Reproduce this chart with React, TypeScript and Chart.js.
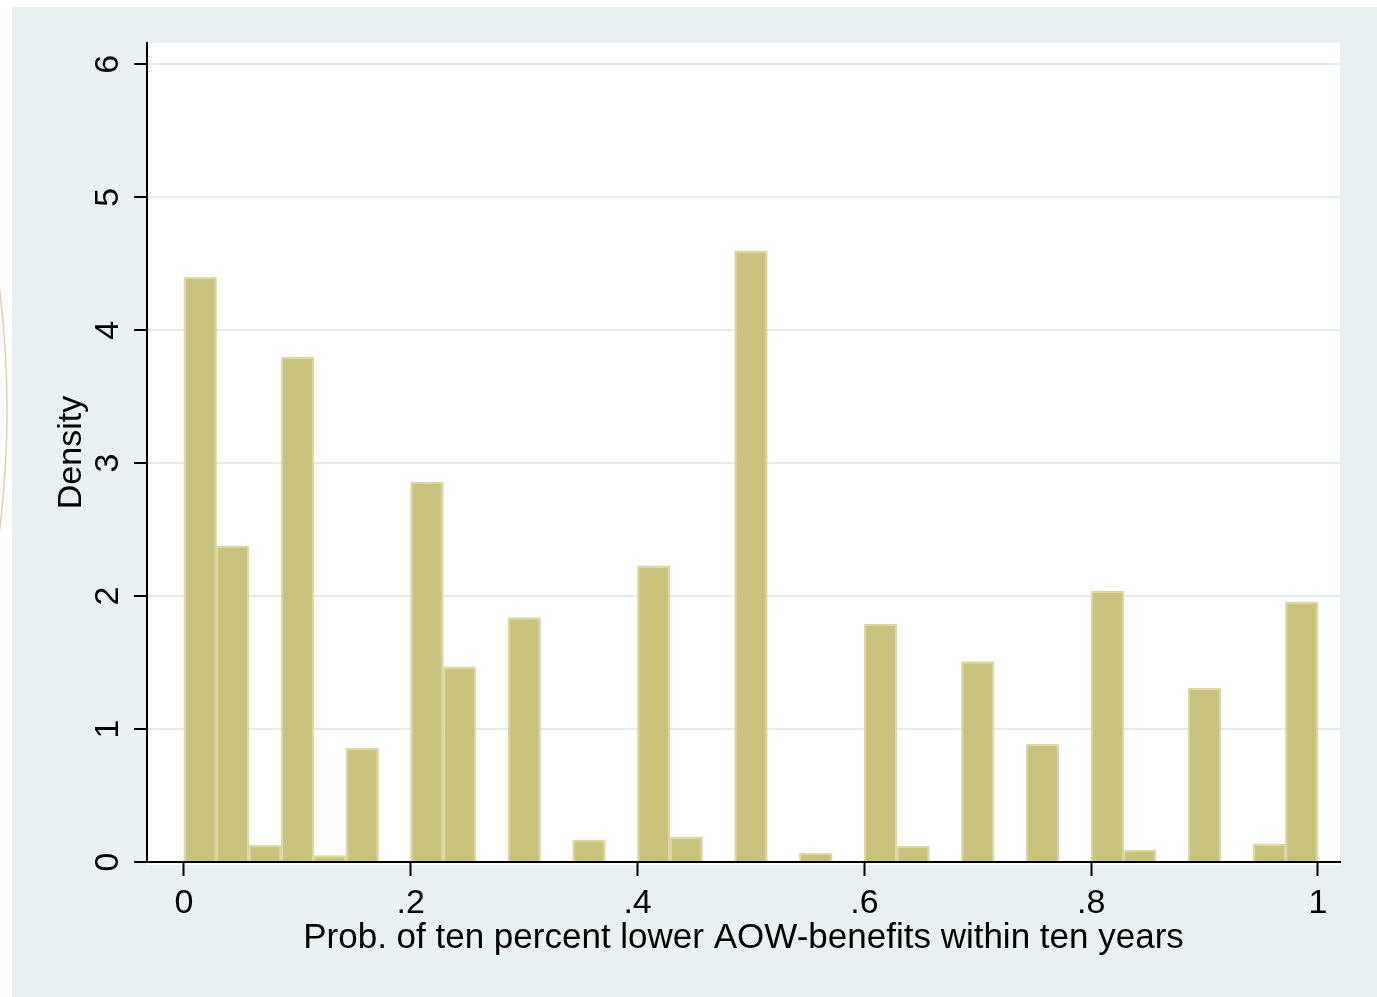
import React, { useEffect, useRef } from "react";
import { Chart, registerables } from "chart.js";

Chart.register(...registerables);

// Histogram: 35 equal-width bins on [0, 1]
const BIN_COUNT = 35;
const DENSITIES = [
  4.40, 2.38, 0.13, 3.80, 0.05, 0.86, 0, 2.86, 1.47, 0,
  1.84, 0, 0.17, 0, 2.23, 0.19, 0, 4.60, 0, 0.07,
  0, 1.79, 0.12, 0, 1.51, 0, 0.89, 0, 2.04, 0.09,
  0, 1.31, 0, 0.14, 1.96,
];
const X_TICKS = [0, 0.2, 0.4, 0.6, 0.8, 1];
const X_TICK_LABELS = ["0", ".2", ".4", ".6", ".8", "1"];
const Y_TICKS = [0, 1, 2, 3, 4, 5, 6];
const Y_TICK_LABELS = ["0", "1", "2", "3", "4", "5", "6"];
const X_TITLE = "Prob. of ten percent lower AOW-benefits within ten years";
const Y_TITLE = "Density";

const W = 1377;
const H = 997;
const FONT = "'Liberation Sans', Arial, Helvetica, sans-serif";
const BG = "#E9F0F2";

export default function App() {
  const ref = useRef<HTMLCanvasElement | null>(null);

  useEffect(() => {
    const canvas = ref.current;
    if (!canvas) return;

    const decor = {
      id: "decor",
      beforeDraw(chart: any) {
        const { ctx, chartArea } = chart;
        ctx.save();
        ctx.fillStyle = "#ffffff";
        ctx.fillRect(0, 0, W, H);
        ctx.fillStyle = BG;
        ctx.fillRect(12, 7, W - 12, H - 7);
        // faint arc at the left margin
        ctx.beginPath();
        ctx.strokeStyle = "#E6CDAE";
        ctx.lineWidth = 1.5;
        ctx.arc(-974, 410, 981, -0.125, 0.125);
        ctx.stroke();
        ctx.fillStyle = "#ffffff";
        ctx.fillRect(chartArea.left, chartArea.top, chartArea.right - chartArea.left, chartArea.bottom - chartArea.top + 3);
        ctx.restore();
      },
      afterDraw(chart: any) {
        const { ctx } = chart;
        const ys = chart.scales.y;
        ctx.save();
        ctx.fillStyle = "#000000";
        ctx.font = `34px ${FONT}`;
        ctx.textAlign = "center";
        ctx.textBaseline = "alphabetic";
        Y_TICKS.forEach((v, i) => {
          const py = ys.getPixelForValue(v);
          ctx.save();
          ctx.translate(118, py);
          ctx.rotate(-Math.PI / 2);
          ctx.fillText(Y_TICK_LABELS[i], 0, 0);
          ctx.restore();
        });
        ctx.restore();
      },
    };

    const chart = new Chart(canvas, {
      type: "bar",
      data: {
        datasets: [
          {
            data: DENSITIES.map((d, i) => ({ x: (i + 0.5) / BIN_COUNT, y: d })),
            backgroundColor: "#C9C27D",
            borderColor: "#DCD6A6",
            borderWidth: 2,
            barPercentage: 1.03,
            categoryPercentage: 1,
          },
        ],
      },
      options: {
        responsive: false,
        animation: false,
        devicePixelRatio: 1,
        layout: { padding: { top: 43, right: 37, left: 0, bottom: 0 } },
        plugins: {
          legend: { display: false },
          tooltip: { enabled: false },
        },
        scales: {
          x: {
            type: "linear",
            offset: false,
            min: -0.0326,
            max: 1.0194,
            afterBuildTicks: (s: any) => {
              s.ticks = X_TICKS.map((v) => ({ value: v }));
            },
            afterFit: (s: any) => {
              s.height = H - 862;
            },
            ticks: {
              autoSkip: false,
              maxRotation: 0,
              minRotation: 0,
              padding: 7,
              color: "#000000",
              font: { family: FONT, size: 34 },
              callback: (v: any) => {
                const i = X_TICKS.findIndex((t) => Math.abs(t - Number(v)) < 1e-9);
                return i >= 0 ? X_TICK_LABELS[i] : "";
              },
            },
            grid: {
              offset: false,
              drawOnChartArea: false,
              drawTicks: true,
              tickLength: 14,
              tickColor: "#000000",
              tickWidth: 2,
            },
            border: { display: true, color: "#000000", width: 2 },
            title: {
              display: true,
              text: X_TITLE,
              color: "#000000",
              font: { family: FONT, size: 35 },
              padding: { top: 0, bottom: 38 },
            },
          },
          y: {
            type: "linear",
            min: 0,
            max: 6.16,
            afterBuildTicks: (s: any) => {
              s.ticks = Y_TICKS.map((v) => ({ value: v }));
            },
            afterFit: (s: any) => {
              s.width = 147;
            },
            ticks: { display: false },
            grid: {
              drawOnChartArea: true,
              color: "#E4ECEE",
              lineWidth: 2,
              drawTicks: true,
              tickLength: 13,
              tickColor: "#000000",
              tickWidth: 2,
            },
            border: { display: true, color: "#000000", width: 2 },
            title: {
              display: true,
              text: Y_TITLE,
              color: "#000000",
              font: { family: FONT, size: 34 },
              padding: { top: 51, bottom: 0 },
            },
          },
        },
      },
      plugins: [decor],
    } as any);

    return () => chart.destroy();
  }, []);

  return (
    <div style={{ position: "absolute", left: 0, top: 0, width: W, height: H }}>
      <canvas ref={ref} width={W} height={H} style={{ display: "block", width: W, height: H }} />
    </div>
  );
}
